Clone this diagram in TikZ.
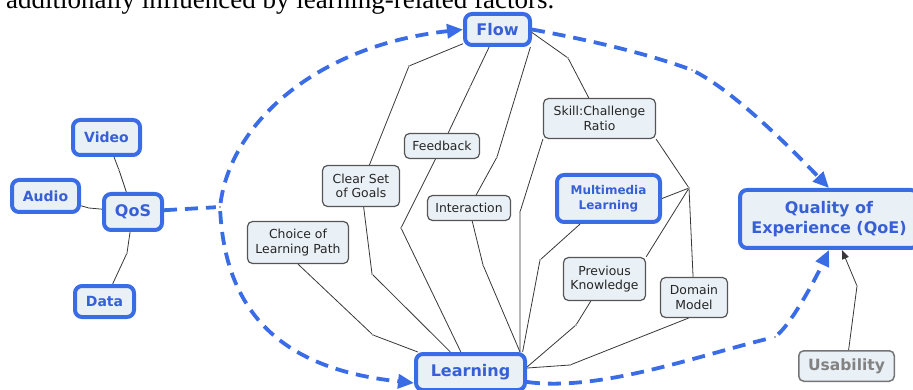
\documentclass[tikz,border=0pt]{standalone}
\usepackage{fontspec}
\setmainfont{DejaVu Sans}
\newfontfamily\captionserif{Liberation Serif}
\usetikzlibrary{arrows.meta}

\definecolor{cmapblue}{RGB}{58,108,230}
\definecolor{cmaptext}{RGB}{55,96,214}
\definecolor{cmapfill}{RGB}{233,240,246}
\definecolor{cmapline}{RGB}{55,55,55}
\definecolor{cmapgray}{RGB}{130,130,130}

\begin{document}
\begin{tikzpicture}[x=1pt,y=1pt]
\tikzstyle{every node}+=[inner sep=0pt]
\tikzstyle{concept}=[draw=cmapblue, line width=4pt, fill=cmapfill, rounded corners=7pt, text=cmaptext, align=center, font=\bfseries\fontsize{16}{20}\selectfont]
\tikzstyle{factor}=[draw=cmapline!85, line width=1.2pt, fill=cmapfill, rounded corners=5pt, text=black!85, align=center, font=\fontsize{12.4}{14.5}\selectfont]
\tikzstyle{linkpt}=[circle, fill=cmapline!80, minimum size=1.8pt]
\tikzstyle{wire}=[draw=cmapline, line width=0.8pt]
\tikzstyle{influence}=[draw=cmapblue, line width=3.8pt, dash pattern=on 13pt off 8pt]
\tikzstyle{bigtip}=[-{Triangle[length=16pt,width=14pt]}]

\useasboundingbox (0,0) rectangle (913,-390);
\clip (0,0) rectangle (913,-390);

% running text of the page above
\node[anchor=base west, font=\captionserif\fontsize{27}{30}\selectfont] (caption) at (6,-9) {additionally influenced by learning-related factors.};

% QoS side
\node[concept, minimum width=58, minimum height=36] (qos) at (133,-212) {QoS};
\node[concept, font=\bfseries\fontsize{14}{17}\selectfont, minimum width=67, minimum height=35] (video) at (106.5,-137.5) {Video};
\node[concept, font=\bfseries\fontsize{14}{17}\selectfont, minimum width=67, minimum height=32] (audio) at (45.5,-196) {Audio};
\node[concept, font=\bfseries\fontsize{14}{17}\selectfont, minimum width=59, minimum height=31] (data) at (104.5,-301.5) {Data};

% main concepts
\node[concept, minimum width=65, minimum height=31] (flow) at (497.5,-29.5) {Flow};
\node[concept, minimum width=109, minimum height=36] (learning) at (470.5,-372) {Learning};
\node[concept, minimum width=178, minimum height=58] (qoe) at (829,-219) {Quality of\\Experience (QoE)};
\node[concept, font=\bfseries\fontsize{12}{15}\selectfont, minimum width=103, minimum height=47] (mm) at (608.5,-198.5) {Multimedia\\Learning};
\node[factor, draw=cmapgray!90!black, line width=1.5pt, text=cmapgray, font=\bfseries\fontsize{15.5}{18}\selectfont, minimum width=95.5, minimum height=30.5] (usability) at (846.5,-366) {Usability};

% learning factors
\node[factor, minimum width=101, minimum height=42] (choice) at (298,-242.5) {Choice of\\Learning Path};
\node[factor, minimum width=77, minimum height=41] (clear) at (361,-186) {Clear Set\\of Goals};
\node[factor, minimum width=75, minimum height=25] (feedback) at (442,-146) {Feedback};
\node[factor, minimum width=83, minimum height=25] (interaction) at (469,-208) {Interaction};
\node[factor, minimum width=112, minimum height=40] (skill) at (599.5,-118.5) {Skill:Challenge\\Ratio};
\node[factor, minimum width=82, minimum height=43] (pk) at (604.5,-279) {Previous\\Knowledge};
\node[factor, minimum width=67, minimum height=40] (dm) at (694,-297.5) {Domain\\Model};

% linking points
\node[linkpt] (vq) at (119,-170) {};
\node[linkpt] (aq) at (89,-208) {};
\node[linkpt] (qd) at (127,-253) {};
\node[linkpt] (qj) at (220,-207) {};
\node[linkpt] (fq) at (692,-70) {};
\node[linkpt] (lq) at (775,-337) {};
\node[linkpt] (ud) at (857,-286) {};
\node[linkpt] (fc) at (409,-66) {};
\node[linkpt] (cl) at (372,-274) {};
\node[linkpt] (ff) at (470,-87) {};
\node[linkpt] (fl) at (401,-228) {};
\node[linkpt] (fi) at (497,-157) {};
\node[linkpt] (il) at (483,-265) {};
\node[linkpt] (fs) at (568,-58) {};
\node[linkpt] (sl) at (520,-212) {};
\node[linkpt] (sm) at (689,-188) {};
\node[linkpt] (ml) at (540,-260) {};
\node[linkpt] (pl) at (576,-325) {};
\node[linkpt] (dl) at (570,-365) {};
\node[linkpt] (cll) at (373,-335) {};

% QoS links
\draw [wire] (video) -- (vq) -- (qos);
\draw [wire] (audio) -- (aq) -- (qos);
\draw [wire] (qos) -- (qd) -- (data);

% flow and learning links
\draw [wire] (flow) -- (fc) -- (clear) -- (cl) -- (learning);
\draw [wire] (flow) -- (ff) -- (feedback) -- (fl) -- (learning);
\draw [wire] (flow.-28) -- (fi) -- (interaction) -- (il) -- (learning.22);
\draw [wire] (flow.-5) -- (fs) -- (skill);
\draw [wire] (skill.-160) -- (sl) -- (learning.22);
\draw [wire] (skill.south east) -- (sm);
\draw [wire] (sm) -- (mm.east);
\draw [wire] (sm) -- (pk.north east);
\draw [wire] (sm) -- (dm);
\draw [wire] (mm) -- (ml) -- (learning.21);
\draw [wire] (pk) -- (pl) -- (learning.5);
\draw [wire] (dm.-105) -- (dl) -- (learning);
\draw [wire] (choice.south) -- (cll) -- (learning);
\draw [wire, -{Triangle[length=9pt,width=7pt]}] (usability) -- (ud) -- (qoe);

% QoS, flow and learning towards QoE
\draw [influence, shorten >=3pt] (qos) -- (qj);
\draw [influence, bigtip, shorten <=3pt] (qj) .. controls (232,-120) and (320,-45) .. (flow.west);
\draw [influence, bigtip, shorten <=3pt] (qj) .. controls (226,-320) and (290,-370) .. (learning.191);
\draw [influence, shorten >=3pt] (flow.east) .. controls (600,-42) and (650,-55) .. (fq);
\draw [influence, bigtip, shorten <=3pt] (fq) .. controls (740,-95) and (805,-163) .. (qoe.north);
\draw [influence, shorten >=3pt] (learning.-10) .. controls (600,-392) and (700,-355) .. (lq);
\draw [influence, bigtip, shorten <=3pt] (lq) .. controls (792,-322) and (815,-280) .. (qoe.south);
\end{tikzpicture}
\end{document}
